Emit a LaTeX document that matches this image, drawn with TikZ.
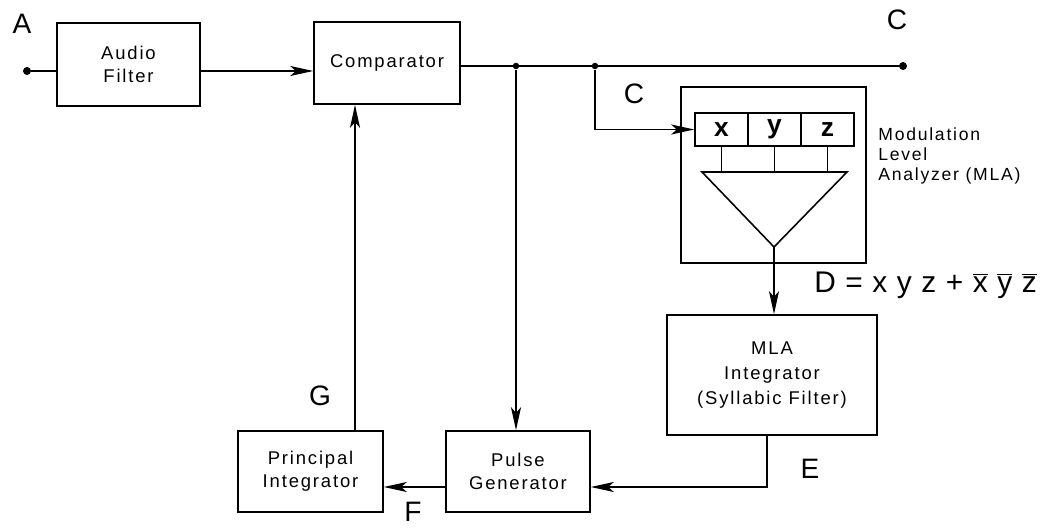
\documentclass[tikz,border=0pt]{standalone}
\usepackage{fontspec}
\setmainfont{Liberation Sans}
\newfontfamily\blockfont[LetterSpace=10]{Liberation Sans}
\usetikzlibrary{arrows.meta,calc}
\tikzset{
  >={Stealth[length=4.6mm,width=2mm,inset=1.1mm]},
  block/.style={draw,line width=0.9pt,minimum width=#1,minimum height=1.62cm,align=center,
    inner sep=0pt,font=\blockfont\fontsize{10.5}{13}\selectfont},
  block/.default=2.9cm,
  cell/.style={draw,line width=0.9pt,minimum width=1.06cm,minimum height=0.66cm,inner sep=0pt,
    font=\fontsize{15}{15}\selectfont\bfseries},
  wire/.style={line width=0.9pt},
  flow/.style={->,line width=0.9pt},
  tag/.style={font=\fontsize{16}{18}\selectfont},
  junction/.style={circle,fill,inner sep=0pt,minimum size=#1},
  junction/.default=1.3mm,
}
\newcommand{\gap}{\hspace{0.32em}}

\begin{document}
\begin{tikzpicture}[x=0.02cm,y=-0.02cm]
  \useasboundingbox (0,0) rectangle (1047,527);
  % blocks
  \node[block=2.86cm,minimum height=1.66cm] (afilter) at (128.5,64.5) {Audio\\Filter};
  \node[block=2.92cm,minimum height=1.64cm] (comp) at (387,63) {Comparator};
  \node[draw,line width=0.9pt,minimum width=3.7cm,minimum height=3.52cm] (mla) at (773.5,175) {};
  \node[block=4.2cm,minimum height=2.4cm,font=\blockfont\fontsize{10.5}{14}\selectfont] (mlaint) at (772,375) {MLA\\Integrator\\(Syllabic Filter)};
  \node[block=2.9cm] (princ) at (310.5,471.5) {Principal\\Integrator};
  \node[block=2.88cm] (pulse) at (518,471.5) {Pulse\\Generator};
  % analyzer inside
  \foreach \v [count=\i] in {x,y,z}
    \node[cell] (cell\v) at ({668.5+53*\i},129.5) {\v};
  \coordinate (tl) at (702,172);
  \coordinate (tr) at (847,172);
  \coordinate (apex) at (774,247);
  \draw[wire,line join=miter] (tl) -- (tr) -- (apex) -- cycle;
  \foreach \v in {x,y,z}
    \draw[wire] (cell\v.south) -- (cell\v.south |- tl);
  % signal path
  \node[junction=1.6mm] (in) at (27,71) {};
  \node[junction=1.6mm] (out) at (903,66) {};
  \node[junction] (j1) at (516,66) {};
  \node[junction] (j2) at (595,66) {};
  \coordinate (e) at (767,487);
  \coordinate (g) at (355,431);
  \draw[wire] (in) -- (afilter.west |- in);
  \draw[flow] (afilter.east |- in) -- (comp.west |- in);
  \draw[wire] (comp.east |- out) -- (out);
  \draw[flow] (j1) -- (j1 |- pulse.north);
  \draw[flow] (j2) |- (cellx.west);
  \draw[flow] (apex) -- (apex |- mlaint.north);
  \draw[flow] (mlaint.south -| e) -- (e) -- (pulse.east |- e);
  \draw[flow] (pulse.west |- e) -- (princ.east |- e);
  \draw[flow] (g) -- (g |- comp.south);
  % labels
  \node[tag] (lA) at (22,24) {A};
  \node[tag] (lC) at (897,20) {C};
  \node[tag] (lCb) at (634,94) {C};
  \node[tag] (lG) at (320,396) {G};
  \node[tag] (lF) at (413,512) {F};
  \node[tag] (lE) at (810,469) {E};
  \node[tag,anchor=west,inner sep=0pt,font=\fontsize{17}{18}\selectfont] (lD) at (814,285)
    {D\gap=\gap x\gap y\gap z\gap+\gap$\overline{\hbox{x}}$\gap$\overline{\hbox{y}}$\gap$\overline{\hbox{z}}$};
  \node[anchor=north west,align=left,inner sep=0pt,font=\blockfont\fontsize{10}{11.5}\selectfont] (mlatxt) at (878,127)
    {Modulation\\Level\\Analyzer (MLA)};
\end{tikzpicture}
\end{document}
